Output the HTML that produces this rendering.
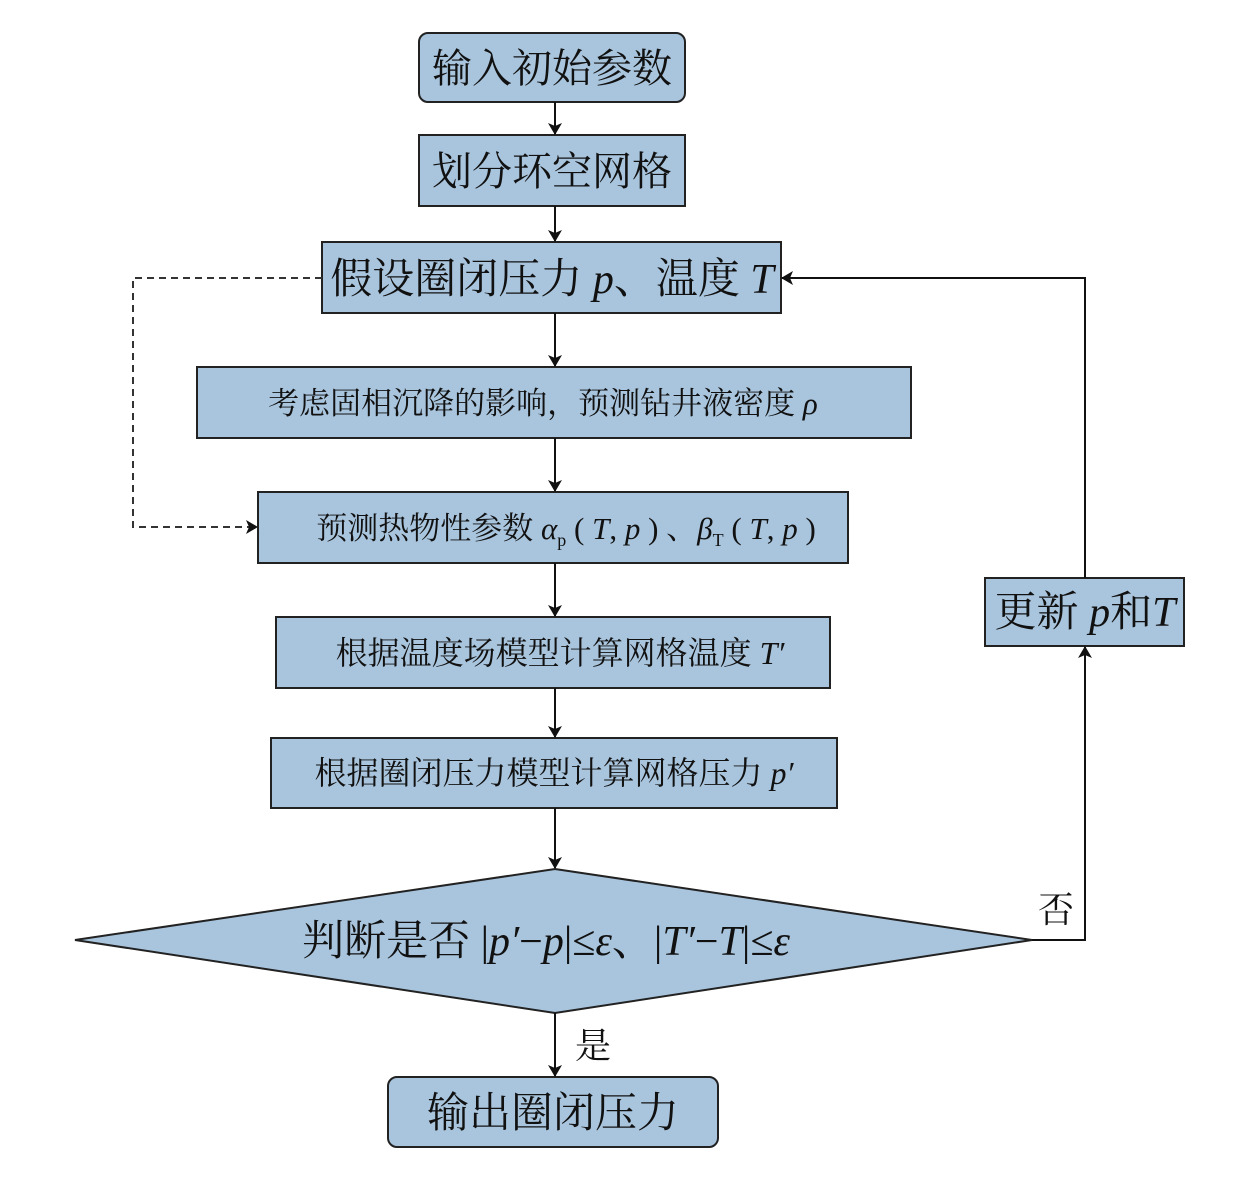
<!DOCTYPE html>
<html><head><meta charset="utf-8"><style>
html,body{margin:0;padding:0;background:#fff;}
svg text{font-family:"Liberation Serif","Noto Serif CJK SC",serif;fill:#111;}
</style></head><body>
<svg width="1259" height="1179" viewBox="0 0 1259 1179" xmlns="http://www.w3.org/2000/svg">
<defs><marker id="a" markerWidth="12" markerHeight="14" refX="11" refY="7" orient="auto" markerUnits="userSpaceOnUse"><path d="M0,0 L12,7 L0,14 L3,7 Z" fill="#111"/></marker></defs>
<g fill="#a9c5dd" stroke="#222" stroke-width="2">
<rect x="419" y="33" width="266" height="69" rx="9"/>
<rect x="419" y="135" width="266" height="71"/>
<rect x="322" y="242" width="459" height="71"/>
<rect x="197" y="367" width="714" height="71"/>
<rect x="258" y="492" width="590" height="71"/>
<rect x="276" y="617" width="554" height="71"/>
<rect x="271" y="738" width="566" height="70"/>
<polygon points="75,940 555,869 1032,940 555,1013"/>
<rect x="388" y="1077" width="330" height="70" rx="9"/>
<rect x="985" y="578" width="199" height="68"/>
</g>
<g stroke="#111" stroke-width="2" fill="none" marker-end="url(#a)">
<line x1="555" y1="102" x2="555" y2="134"/>
<line x1="555" y1="206" x2="555" y2="241"/>
<line x1="555" y1="313" x2="555" y2="366"/>
<line x1="555" y1="438" x2="555" y2="491"/>
<line x1="555" y1="563" x2="555" y2="616"/>
<line x1="555" y1="688" x2="555" y2="737"/>
<line x1="555" y1="808" x2="555" y2="868"/>
<line x1="555" y1="1013" x2="555" y2="1076"/>
<polyline points="1032,940 1085,940 1085,647"/>
<polyline points="1085,578 1085,278 782,278"/>
<polyline points="322,278 133,278 133,527 257,527" stroke-dasharray="7,5" stroke="#333"/>
</g>
<g text-anchor="middle">
<text x="552" y="82" font-size="40">输入初始参数</text>
<text x="552" y="185" font-size="40">划分环空网格</text>
<text x="552" y="293" font-size="42">假设圈闭压力 <tspan font-style="italic">p</tspan>、温度 <tspan font-style="italic">T</tspan></text>
<text x="543" y="414" font-size="31">考虑固相沉降的影响，预测钻井液密度 <tspan font-style="italic">ρ</tspan></text>
<text x="566" y="539" font-size="31">预测热物性参数 <tspan font-style="italic">α</tspan><tspan font-size="18" dy="7">p</tspan><tspan dy="-7"> ( </tspan><tspan font-style="italic">T</tspan>, <tspan font-style="italic">p</tspan> ) 、<tspan font-style="italic">β</tspan><tspan font-size="18" dy="7">T</tspan><tspan dy="-7"> ( </tspan><tspan font-style="italic">T</tspan>, <tspan font-style="italic">p</tspan> )</text>
<text x="560" y="664" font-size="32">根据温度场模型计算网格温度 <tspan font-style="italic">T′</tspan></text>
<text x="554" y="784" font-size="32">根据圈闭压力模型计算网格压力 <tspan font-style="italic">p′</tspan></text>
<text x="546" y="955" font-size="42">判断是否 |<tspan font-style="italic">p′</tspan>−<tspan font-style="italic">p</tspan>|≤<tspan font-style="italic">ε</tspan>、|<tspan font-style="italic">T′</tspan>−<tspan font-style="italic">T</tspan>|≤<tspan font-style="italic">ε</tspan></text>
<text x="553" y="1127" font-size="42">输出圈闭压力</text>
<text x="1085" y="626" font-size="42">更新 <tspan font-style="italic">p</tspan>和<tspan font-style="italic">T</tspan></text>
<text x="1056" y="922" font-size="36">否</text>
<text x="593" y="1058" font-size="36">是</text>
</g>
</svg>
</body></html>
